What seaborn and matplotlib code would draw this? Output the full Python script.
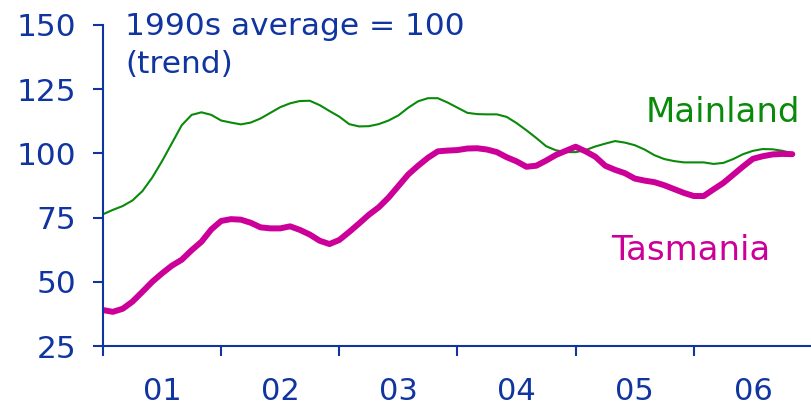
import numpy as np
import pandas as pd
import matplotlib
matplotlib.use("Agg")
import matplotlib.pyplot as plt
import seaborn as sns

# Monthly index values, Jan 2001 .. Nov 2006 (1990s average = 100, trend)
months = list(range(71))
mainland = [76.3, 78.0, 79.5, 81.7, 85.3, 90.6, 97.0, 104.0, 111.0, 115.0,
            116.0, 115.0, 112.8, 112.0, 111.3, 112.0, 113.6, 115.8, 118.0, 119.5,
            120.4, 120.5, 118.8, 116.5, 114.3, 111.4, 110.5, 110.6, 111.4, 112.8,
            114.8, 117.8, 120.3, 121.5, 121.5, 119.8, 117.8, 115.8, 115.3, 115.2,
            115.2, 114.2, 111.8, 109.0, 106.0, 102.8, 101.2, 100.5, 100.5, 101.3,
            102.7, 103.8, 104.8, 104.2, 103.2, 101.5, 99.3, 97.8, 97.0, 96.5,
            96.5, 96.5, 95.9, 96.3, 97.8, 99.7, 101.0, 101.7, 101.6, 101.0, 100.1]
tasmania = [39.0, 38.3, 39.5, 42.3, 46.1, 50.0, 53.3, 56.3, 58.6, 62.3,
            65.6, 70.4, 73.7, 74.4, 74.2, 73.0, 71.2, 70.8, 70.8, 71.6,
            70.2, 68.4, 66.0, 64.7, 66.3, 69.4, 72.7, 76.1, 79.0, 82.8,
            87.3, 91.8, 95.2, 98.3, 100.8, 101.1, 101.3, 101.9, 102.0, 101.5,
            100.5, 98.5, 96.9, 94.8, 95.2, 97.2, 99.4, 101.0, 102.6, 100.8,
            98.7, 95.2, 93.6, 92.3, 90.2, 89.4, 88.8, 87.6, 86.1, 84.6,
            83.4, 83.4, 86.0, 88.5, 91.7, 94.9, 97.9, 98.9, 99.6, 99.8, 99.7]
year_ticks = [2001, 2002, 2003, 2004, 2005, 2006]
year_labels = ["01", "02", "03", "04", "05", "06"]
y_ticks = [25, 50, 75, 100, 125, 150]

BLUE = "#1035A0"
GREEN = "#0A8A0A"
MAGENTA = "#CC0099"

sns.set_style("white")
plt.rcParams["font.family"] = ["DejaVu Sans"]

t = 2001 + np.array(months) / 12.0
df = pd.DataFrame({"t": t, "Mainland": mainland, "Tasmania": tasmania})

fig = plt.figure(figsize=(8.12, 4.09), dpi=100)
ax = fig.add_axes([103 / 812, 1 - 346 / 409, 1 - 103 / 812, (346 - 25) / 409])

sns.lineplot(data=df, x="t", y="Mainland", ax=ax, color=GREEN, linewidth=1.5)
sns.lineplot(data=df, x="t", y="Tasmania", ax=ax, color=MAGENTA, linewidth=4.3)

ax.set_xlim(2001, 2007)
ax.set_ylim(25, 150)
ax.set_xlabel("")
ax.set_ylabel("")

ax.set_yticks(y_ticks)
ax.set_yticklabels([str(v) for v in y_ticks])
ax.set_xticks(year_ticks)
ax.set_xticklabels([""] * len(year_ticks))
ax.set_xticks([y + 0.5 for y in year_ticks], minor=True)
ax.set_xticklabels(year_labels, minor=True)

for s in ["top", "right"]:
    ax.spines[s].set_visible(False)
for s in ["left", "bottom"]:
    ax.spines[s].set_color(BLUE)
    ax.spines[s].set_linewidth(1.5)

ax.tick_params(axis="y", which="major", direction="out", length=7.2, width=1.5,
               color=BLUE, labelcolor=BLUE, labelsize=22.5, pad=12, left=True)
ax.tick_params(axis="x", which="major", direction="out", length=7.5, width=1.5,
               color=BLUE, bottom=True)
ax.tick_params(axis="x", which="minor", length=0, labelcolor=BLUE,
               labelsize=22, pad=22, bottom=True)

ax.text(2006.9, 112.2, "Mainland", color=GREEN, fontsize=24.5,
        ha="right", va="baseline")
ax.text(2005.30, 58.5, "Tasmania", color=MAGENTA, fontsize=24.5,
        ha="left", va="baseline")

fig.text(125 / 812, 1 - 35 / 409, "1990s average = 100", color=BLUE,
         fontsize=22.5, ha="left", va="baseline")
fig.text(125 / 812, 1 - 73 / 409, "(trend)", color=BLUE,
         fontsize=22.5, ha="left", va="baseline")

ax.patch.set_alpha(0)
fig.savefig("out.png", dpi=100, facecolor="white")
